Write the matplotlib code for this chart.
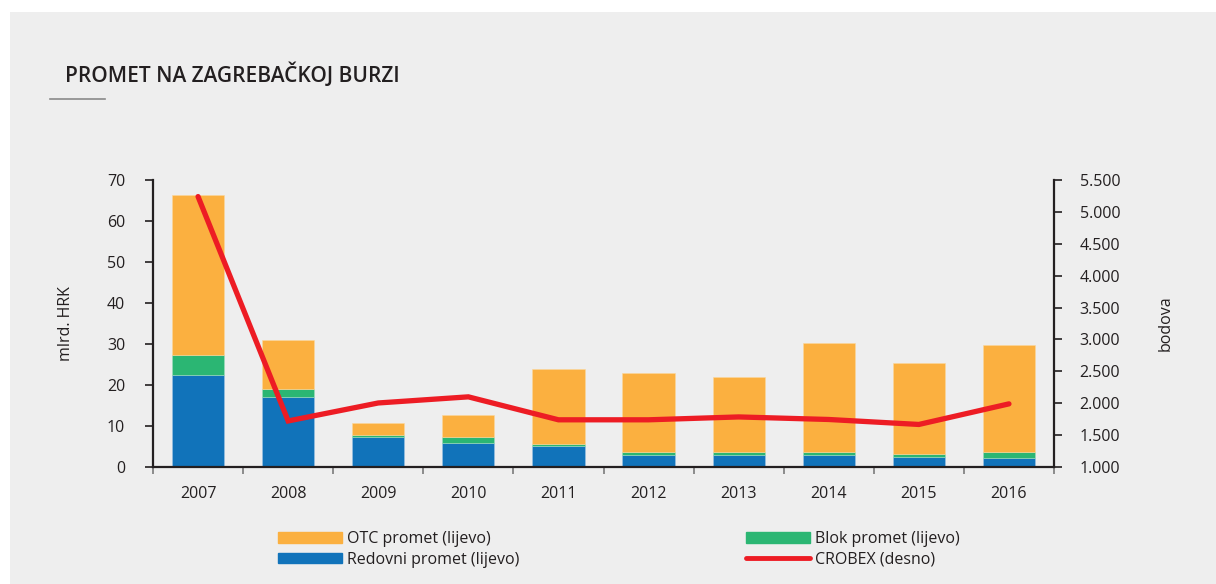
import matplotlib.pyplot as plt
import numpy as np
from matplotlib.patches import Rectangle
from matplotlib.lines import Line2D

plt.rcParams["font.family"] = ["Open Sans", "DejaVu Sans"]

years = ["2007", "2008", "2009", "2010", "2011", "2012", "2013", "2014", "2015", "2016"]
redovni = [22.5, 17.1, 7.4, 5.9, 5.2, 3.0, 2.9, 3.0, 2.5, 2.3]
blok = [4.8, 2.0, 0.4, 1.3, 0.5, 0.6, 0.8, 0.7, 0.7, 1.4]
otc = [39.1, 11.8, 2.9, 5.5, 18.2, 19.3, 18.2, 26.6, 22.1, 26.1]
crobex = [5240, 1722, 2004, 2100, 1740, 1740, 1785, 1745, 1667, 1990]

c_otc = "#fbb040"
c_blok = "#2bb673"
c_red = "#1173ba"
c_line = "#ed1c24"
dark = "#231f20"
bg = "#eeeeee"

fig = plt.figure(figsize=(12.16, 5.84), dpi=100, facecolor="white")
fig.patches.append(Rectangle((10 / 1216, 0), 1, 1 - 12 / 584, transform=fig.transFigure,
                             facecolor=bg, edgecolor="none", zorder=-10))

fig.text(65 / 1216, 1 - 75 / 584, "PROMET NA ZAGREBAČKOJ BURZI", fontsize=15,
         fontweight="semibold", color=dark, va="center", ha="left")
fig.add_artist(Line2D([50 / 1216, 105 / 1216], [1 - 98.5 / 584] * 2, color="#8a8a8a", lw=1.2))

ax = fig.add_axes([153 / 1216, 1 - 467 / 584, 901 / 1216, 287 / 584])
ax.set_facecolor("none")
x = np.arange(len(years))
w = 0.58
bottom2 = np.array(redovni) + np.array(blok)
ax.bar(x, redovni, w, color=c_red, edgecolor="#9cc3e4", linewidth=0.4)
ax.bar(x, blok, w, bottom=redovni, color=c_blok, edgecolor="#9fdcbd", linewidth=0.4)
ax.bar(x, otc, w, bottom=bottom2, color=c_otc, edgecolor="#fcd79c", linewidth=0.4)

ax.set_xlim(-0.5, len(years) - 0.5)
ax.set_ylim(0, 70)
ax.set_yticks(range(0, 71, 10))
ax.set_xticks(x)
ax.set_xticklabels(years)
ax.set_xticks(np.arange(-0.5, len(years), 1), minor=True)
ax.tick_params(axis="x", which="major", length=0, pad=14, labelsize=11.5, labelcolor=dark)
ax.tick_params(axis="x", which="minor", length=5, width=1.2, color="#7a7a7a", direction="out")
ax.tick_params(axis="y", length=6, width=1.2, color=dark, pad=14, labelsize=11.5, labelcolor=dark)
ax.set_ylabel("mlrd. HRK", fontsize=11.5, color=dark, labelpad=24)
for s in ["top", "right"]:
    ax.spines[s].set_visible(False)
for s in ["left", "bottom"]:
    ax.spines[s].set_color(dark)
    ax.spines[s].set_linewidth(1.6)

ax2 = ax.twinx()
ax2.set_ylim(1000, 5500)
ax2.set_yticks(range(1000, 5501, 500))
ax2.set_yticklabels([f"{v:,}".replace(",", ".") for v in range(1000, 5501, 500)])
ax2.plot(x, crobex, color=c_line, lw=3.8, solid_capstyle="round", solid_joinstyle="miter")
ax2.tick_params(axis="y", length=6, width=1.2, color=dark, pad=12.5, labelsize=11.5, labelcolor=dark)
ax2.set_ylabel("bodova", fontsize=11.5, color=dark, labelpad=27)
for s in ["top", "left", "bottom"]:
    ax2.spines[s].set_visible(False)
ax2.spines["right"].set_color(dark)
ax2.spines["right"].set_linewidth(1.6)

h_otc = Rectangle((0, 0), 1, 1, color=c_otc)
h_red = Rectangle((0, 0), 1, 1, color=c_red)
h_blok = Rectangle((0, 0), 1, 1, color=c_blok)
h_line = Line2D([], [], color=c_line, lw=3.5, solid_capstyle="round")

leg_kw = dict(frameon=False, fontsize=11.5, handlelength=4.0, handleheight=0.62,
              handletextpad=0.3, labelspacing=0.3, borderpad=0, borderaxespad=0,
              labelcolor=dark)
leg1 = fig.legend([h_otc, h_red], ["OTC promet (lijevo)", "Redovni promet (lijevo)"],
                  loc="upper left", bbox_to_anchor=(278 / 1216, 1 - 531 / 584), **leg_kw)
leg2 = fig.legend([h_blok, h_line], ["Blok promet (lijevo)", "CROBEX (desno)"],
                  loc="upper left", bbox_to_anchor=(746 / 1216, 1 - 531 / 584), **leg_kw)

fig.savefig("out.png", dpi=100, facecolor=fig.get_facecolor())
